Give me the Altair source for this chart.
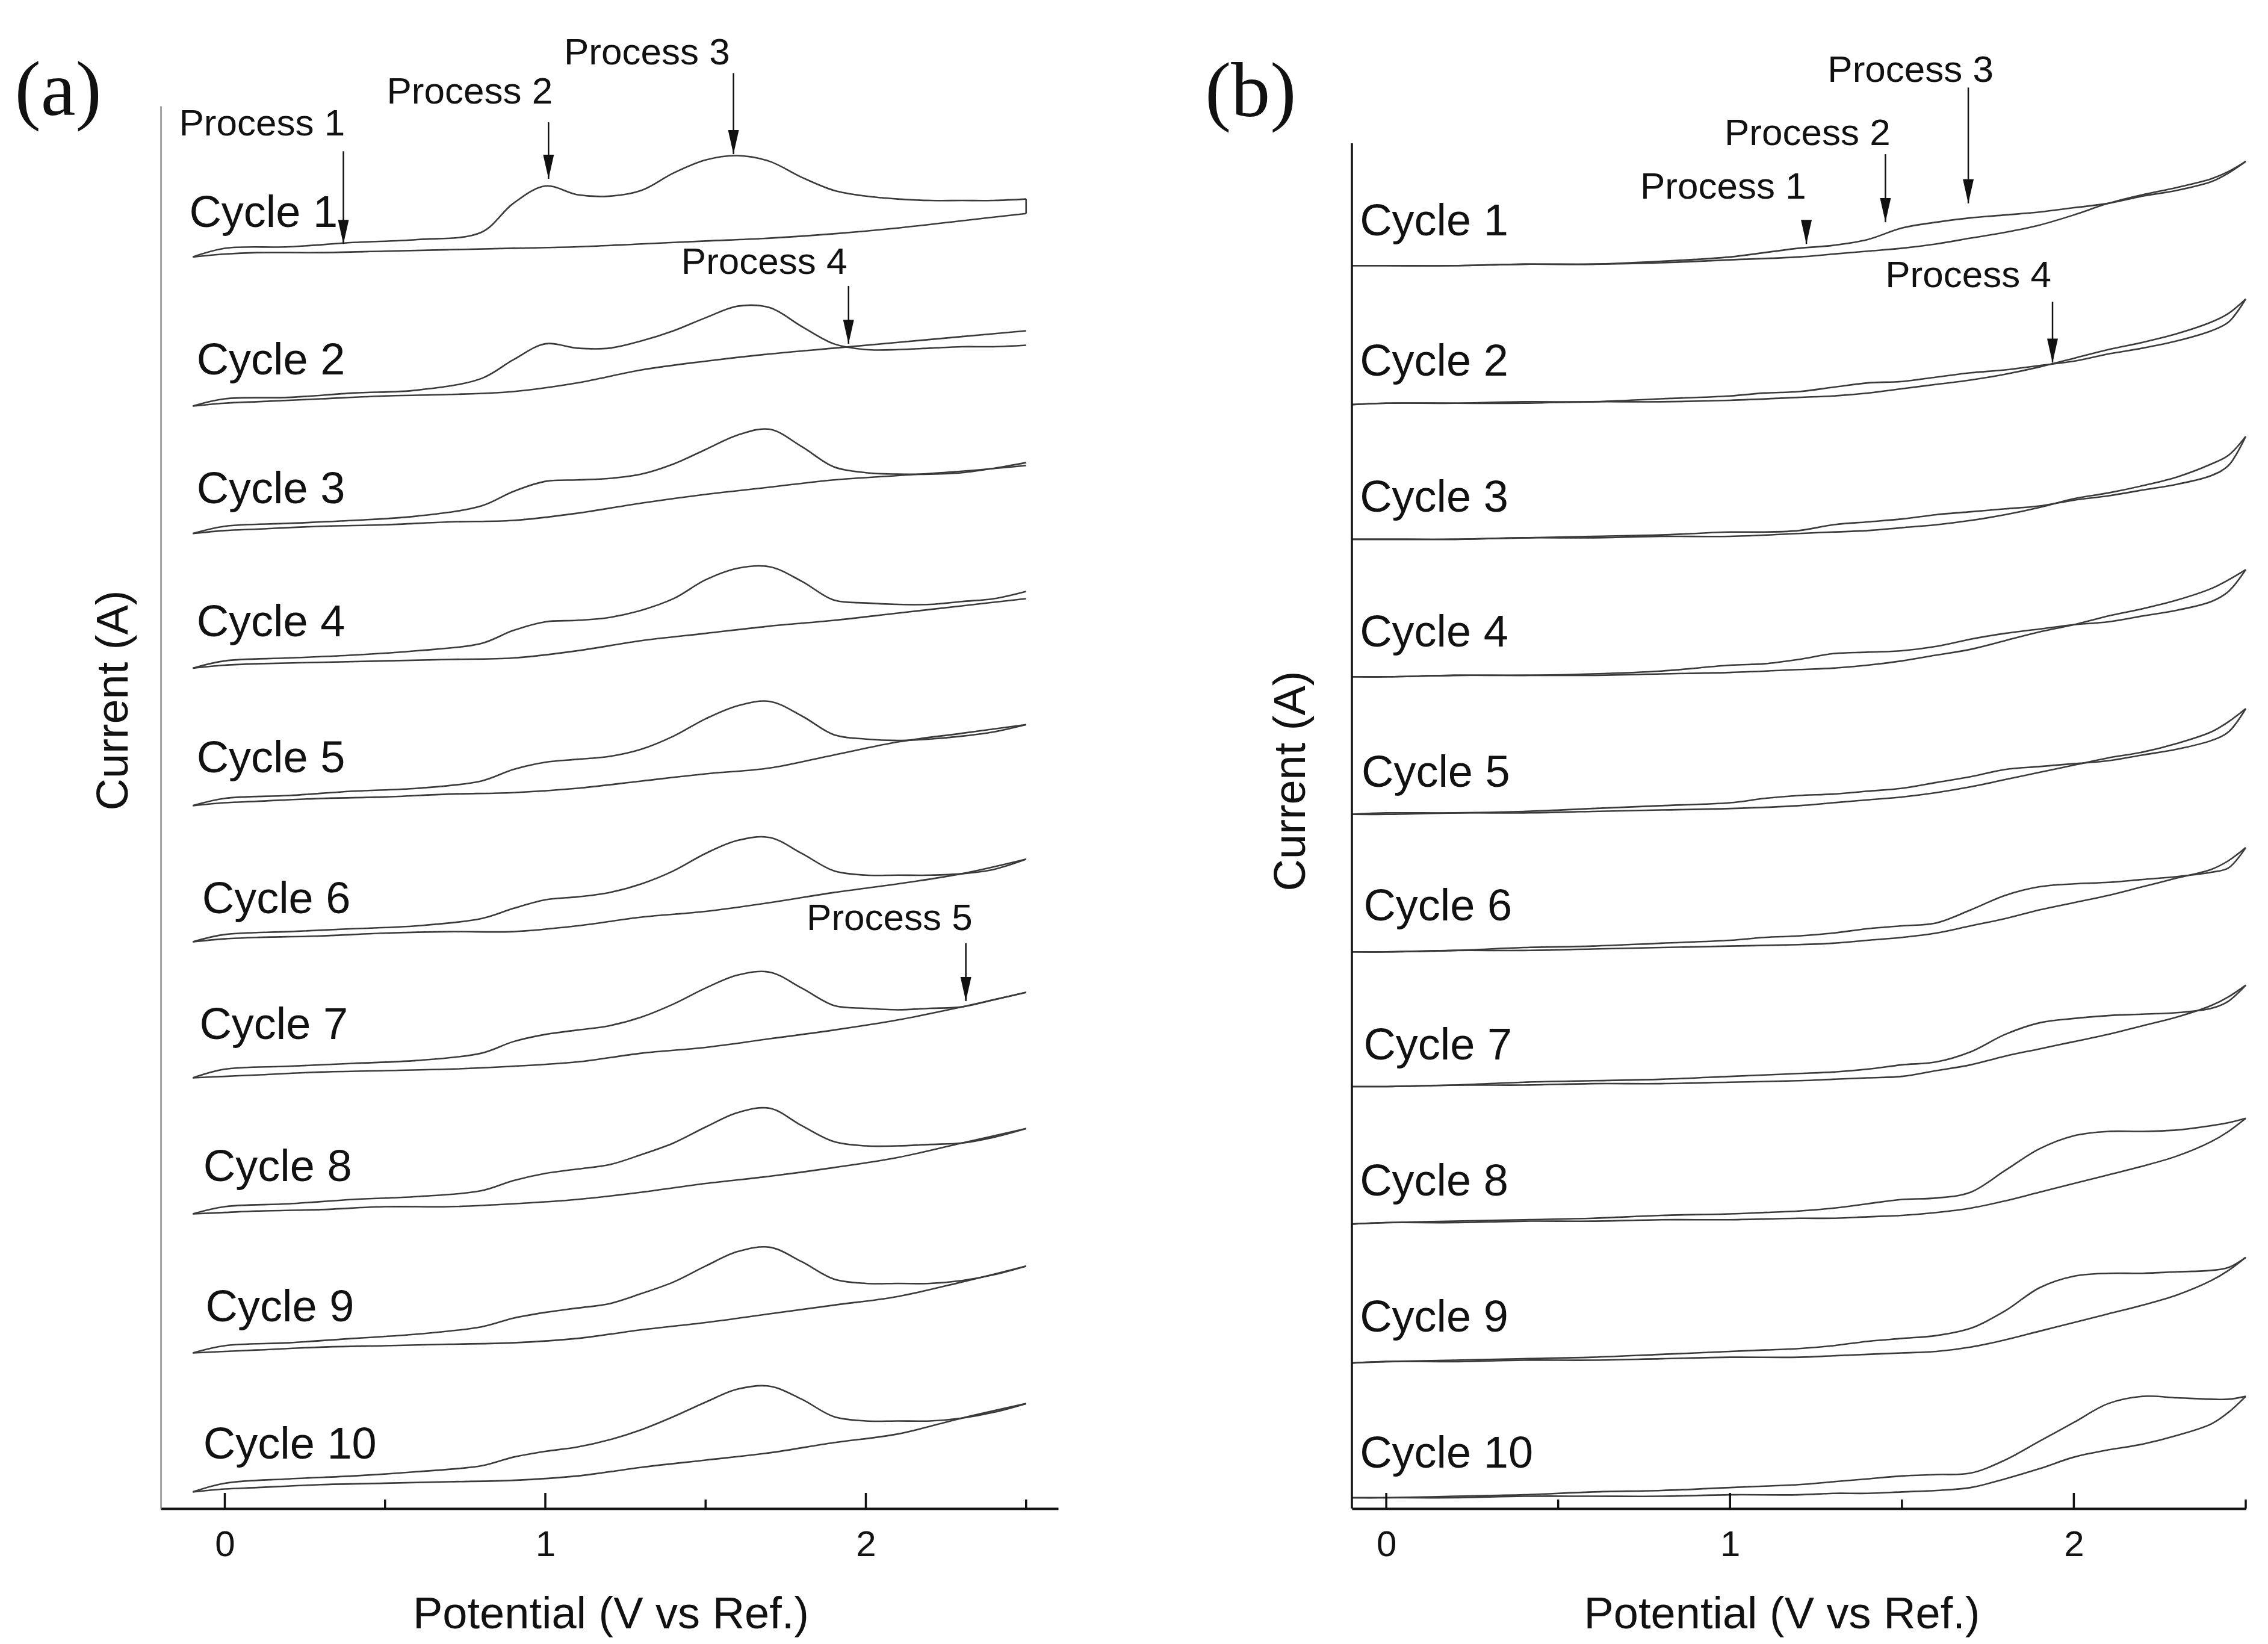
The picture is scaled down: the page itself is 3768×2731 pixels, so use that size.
import altair as alt
import pandas as pd

# ---------------- data (currents in arbitrary units, stacked cycles) ----------------
# Panel (a) potential grids (V vs Ref.)
A_UP_V = [-0.1, 0.0, 0.2, 0.4, 0.6, 0.8, 0.9, 1.0, 1.1, 1.2, 1.3, 1.4, 1.5, 1.6, 1.7, 1.8, 1.9, 2.0, 2.1, 2.2, 2.3, 2.4, 2.5]
A_DN_V = [2.5, 2.3, 2.1, 1.9, 1.7, 1.5, 1.3, 1.1, 0.9, 0.7, 0.5, 0.3, 0.1, 0.0, -0.1]

A1_UP = [867, 873, 874, 877, 879, 884, 904, 916, 910, 909, 913, 925, 934, 937, 933, 922, 913, 909, 907, 906, 906, 906, 907]
A1_DN = [897, 892, 887, 883, 880, 878, 876, 874, 873, 872, 871, 870, 870, 869, 867]
A2_UP = [764, 769, 770, 773, 775, 783, 796, 807, 804, 804, 809, 816, 825, 833, 832, 819, 807, 803, 803, 804, 805, 805, 806]
A2_DN = [816, 812, 808, 804, 800, 795, 789, 780, 774, 772, 771, 769, 767, 766, 764]
A3_UP = [676, 681, 683, 685, 688, 695, 705, 712, 713, 714, 717, 724, 734, 744, 748, 736, 722, 718, 717, 717, 718, 721, 725]
A3_DN = [723, 719, 716, 713, 708, 703, 697, 690, 685, 684, 682, 681, 679, 678, 676]
A4_UP = [583, 588, 590, 592, 595, 600, 609, 615, 616, 618, 623, 631, 644, 652, 653, 643, 630, 628, 627, 627, 629, 631, 636]
A4_DN = [631, 626, 621, 616, 612, 607, 602, 595, 590, 589, 588, 587, 586, 585, 583]
A5_UP = [488, 493, 495, 498, 500, 505, 513, 518, 520, 522, 527, 536, 548, 557, 560, 550, 537, 534, 533, 534, 536, 539, 544]
A5_DN = [544, 538, 532, 523, 514, 510, 505, 500, 497, 496, 494, 493, 491, 490, 488]
A6_UP = [394, 399, 401, 403, 405, 410, 417, 423, 425, 428, 434, 443, 455, 464, 466, 455, 443, 440, 440, 440, 441, 444, 451]
A6_DN = [451, 441, 434, 428, 421, 415, 411, 405, 401, 401, 400, 398, 397, 396, 394]
A7_UP = [300, 306, 308, 310, 312, 317, 325, 330, 333, 336, 342, 351, 362, 371, 373, 362, 350, 348, 347, 348, 349, 354, 359]
A7_DN = [359, 349, 340, 333, 327, 321, 317, 311, 308, 306, 305, 304, 302, 301, 300]
A8_UP = [206, 211, 213, 216, 218, 222, 229, 234, 237, 240, 247, 255, 266, 276, 279, 267, 256, 253, 253, 254, 255, 259, 265]
A8_DN = [265, 255, 245, 238, 232, 227, 221, 216, 213, 211, 211, 209, 208, 207, 206]
A9_UP = [110, 115, 117, 120, 123, 128, 134, 138, 141, 144, 151, 159, 170, 180, 183, 173, 161, 158, 158, 158, 160, 164, 170]
A9_DN = [170, 159, 149, 143, 137, 131, 126, 120, 117, 116, 115, 114, 112, 111, 110]
A10_UP = [14, 20, 23, 25, 28, 32, 38, 42, 45, 50, 57, 66, 76, 85, 87, 78, 66, 63, 63, 63, 65, 69, 75]
A10_DN = [75, 65, 54, 48, 41, 36, 31, 25, 22, 21, 20, 19, 17, 16, 14]

# Panel (b) potential grids
B_FW_V = [-0.1, 0.0, 0.2, 0.4, 0.6, 0.8, 1.0, 1.1, 1.2, 1.3, 1.4, 1.5, 1.6, 1.7, 1.8, 1.9, 2.0, 2.1, 2.2, 2.3, 2.4, 2.45, 2.5]
B_RV_V = [2.5, 2.45, 2.4, 2.3, 2.2, 2.1, 2.0, 1.9, 1.8, 1.7, 1.6, 1.5, 1.4, 1.3, 1.2, 1.0, 0.8, 0.6, 0.4, 0.2, 0.0, -0.1]

B1_FW = [861, 861, 861, 862, 862, 864, 867, 870, 873, 875, 879, 887, 891, 894, 896, 898, 901, 904, 909, 913, 919, 925, 933]
B1_RV = [933, 926, 921, 915, 910, 904, 896, 889, 884, 880, 876, 873, 871, 869, 867, 865, 863, 862, 862, 861, 861, 861]
B2_FW = [765, 766, 766, 767, 767, 769, 771, 773, 774, 777, 780, 781, 784, 787, 789, 792, 795, 800, 804, 809, 816, 822, 838]
B2_RV = [838, 828, 822, 814, 808, 803, 797, 791, 786, 782, 779, 776, 773, 771, 770, 768, 767, 767, 766, 766, 766, 765]
B3_FW = [672, 672, 672, 673, 674, 675, 677, 677, 678, 682, 684, 686, 689, 691, 693, 695, 699, 702, 706, 710, 716, 723, 743]
B3_RV = [743, 730, 724, 715, 709, 704, 700, 694, 689, 685, 682, 680, 678, 677, 676, 674, 674, 673, 673, 672, 672, 672]
B4_FW = [577, 577, 578, 578, 579, 581, 585, 586, 589, 593, 594, 595, 598, 603, 607, 610, 613, 615, 619, 623, 629, 636, 651]
B4_RV = [651, 644, 638, 630, 624, 619, 613, 608, 602, 596, 592, 588, 585, 583, 582, 580, 579, 578, 578, 578, 577, 577]
B5_FW = [482, 483, 483, 484, 486, 488, 490, 493, 495, 496, 498, 500, 504, 508, 513, 515, 517, 519, 523, 527, 533, 539, 555]
B5_RV = [555, 546, 539, 531, 525, 521, 516, 511, 506, 501, 497, 494, 492, 490, 488, 486, 485, 484, 483, 483, 482, 482]
B6_FW = [387, 387, 388, 390, 391, 393, 395, 397, 398, 400, 403, 405, 407, 416, 426, 432, 434, 435, 437, 439, 442, 445, 459]
B6_RV = [459, 450, 444, 438, 432, 426, 421, 416, 410, 405, 400, 397, 395, 393, 392, 391, 390, 389, 388, 388, 387, 387]
B7_FW = [294, 294, 295, 297, 298, 299, 301, 302, 303, 304, 306, 309, 311, 318, 330, 338, 341, 343, 344, 345, 348, 353, 364]
B7_RV = [364, 356, 350, 342, 336, 330, 325, 320, 315, 309, 305, 301, 300, 299, 298, 297, 296, 296, 295, 295, 294, 294]
B8_FW = [199, 200, 201, 202, 203, 205, 206, 207, 208, 210, 213, 216, 217, 221, 236, 251, 260, 263, 263, 264, 267, 269, 272]
B8_RV = [272, 263, 256, 246, 239, 233, 227, 221, 215, 210, 207, 205, 204, 203, 203, 202, 202, 201, 201, 200, 200, 199]
B9_FW = [103, 104, 105, 106, 107, 109, 111, 112, 113, 115, 118, 120, 122, 127, 139, 155, 163, 165, 165, 166, 167, 169, 176]
B9_RV = [176, 167, 160, 150, 143, 137, 131, 125, 119, 114, 111, 110, 109, 108, 107, 107, 106, 105, 105, 104, 104, 103]
B10_FW = [10, 10, 11, 12, 14, 15, 17, 18, 19, 21, 23, 25, 26, 27, 36, 49, 62, 75, 80, 79, 78, 78, 80]
B10_RV = [80, 69, 61, 53, 47, 43, 38, 30, 23, 17, 15, 14, 13, 13, 12, 12, 11, 11, 11, 10, 10, 10]

CYCLE_NAMES = ["Cycle %d" % i for i in range(1, 11)]
A_LABEL_X = [-0.111, -0.088, -0.088, -0.088, -0.088, -0.071, -0.079, -0.067, -0.060, -0.067]
A_LABEL_Y = [897, 795, 706, 614, 520, 423, 336, 238, 141, 46]
B_LABEL_X = [-0.077, -0.077, -0.077, -0.077, -0.072, -0.066, -0.066, -0.077, -0.077, -0.077]
B_LABEL_Y = [891, 794, 700, 607, 510, 418, 322, 228, 134, 40]

A_PROC = ["Process 1", "Process 2", "Process 3", "Process 4", "Process 5"]
A_PROC_TX = [0.116, 0.764, 1.317, 1.683, 2.074]
A_PROC_TY = [959, 981, 1008, 863, 410]
A_ARROW_X = [0.37, 1.01, 1.587, 1.946, 2.312]
A_ARROW_TOP = [940, 960, 994, 847, 393]
A_ARROW_TIP = [876, 921, 938, 807, 353]

B_PROC = ["Process 1", "Process 2", "Process 3", "Process 4"]
B_PROC_TX = [0.98, 1.225, 1.525, 1.693]
B_PROC_TY = [915, 952, 996, 854]
B_ARROW_X = [1.222, 1.452, 1.693, 1.938]
B_ARROW_TOP = [891, 938, 984, 836]
B_ARROW_TIP = [876, 891, 904, 794]

TICKS_MAJOR = [0, 1, 2]
TICKS_MINOR = [0.5, 1.5, 2.5]

# ---------------- build tables ----------------
def loop_frame(up_v, dn_v, ups, dns):
    rows = []
    for c, (u, d) in enumerate(zip(ups, dns), start=1):
        for v, y in zip(up_v, u):
            rows.append({"branch": "%d-fw" % c, "V": v, "I": y})
        for v, y in zip(dn_v, d):
            rows.append({"branch": "%d-rv" % c, "V": v, "I": y})
    return pd.DataFrame(rows)

A_UPS = [A1_UP, A2_UP, A3_UP, A4_UP, A5_UP, A6_UP, A7_UP, A8_UP, A9_UP, A10_UP]
A_DNS = [A1_DN, A2_DN, A3_DN, A4_DN, A5_DN, A6_DN, A7_DN, A8_DN, A9_DN, A10_DN]
B_FWS = [B1_FW, B2_FW, B3_FW, B4_FW, B5_FW, B6_FW, B7_FW, B8_FW, B9_FW, B10_FW]
B_RVS = [B1_RV, B2_RV, B3_RV, B4_RV, B5_RV, B6_RV, B7_RV, B8_RV, B9_RV, B10_RV]

df_a = loop_frame(A_UP_V, A_DN_V, A_UPS, A_DNS)
df_b = loop_frame(B_FW_V, B_RV_V, B_FWS, B_RVS)
# cycle 1 (panel a) switching link at the vertex potential
link_a = pd.DataFrame({"V": [A_UP_V[-1]], "I": [A1_UP[-1]], "I2": [A1_DN[0]]})

lab_a = pd.DataFrame({"x": A_LABEL_X, "y": A_LABEL_Y, "t": CYCLE_NAMES})
lab_b = pd.DataFrame({"x": B_LABEL_X, "y": B_LABEL_Y, "t": CYCLE_NAMES})
proc_a = pd.DataFrame({"t": A_PROC, "tx": A_PROC_TX, "ty": A_PROC_TY,
                       "ax": A_ARROW_X, "top": A_ARROW_TOP, "tip": A_ARROW_TIP})
proc_b = pd.DataFrame({"t": B_PROC, "tx": B_PROC_TX, "ty": B_PROC_TY,
                       "ax": B_ARROW_X, "top": B_ARROW_TOP, "tip": B_ARROW_TIP})

SANS = "Liberation Sans"
SERIF = "Liberation Serif"
INK = "#111111"
CURVE = "#3a3a3a"
HEAD = "M -0.45 -2 L 0.45 -2 L 0 0 Z"
H = 2330
YDOM = [2.5, 971.3]


def panel(df, lab, proc, xdom, width, title_x, ytitle_x, ytitle_y, letter, letter_x, letter_y,
          ydomain_line, ydomain_color, ydomain_width, link=None):
    xs = alt.Scale(domain=xdom, nice=False, zero=False)
    ys = alt.Scale(domain=YDOM, nice=False, zero=False)
    x_axis = alt.Axis(values=TICKS_MAJOR, format="d", title="Potential (V vs Ref.)",
                      titleFont=SANS, titleFontSize=74, titleFontWeight="normal", titleColor=INK,
                      titleX=title_x, titleY=140.6, titleAlign="center", titleBaseline="top",
                      labelFont=SANS, labelFontSize=60, labelColor=INK, labelPadding=31,
                      labelFlush=False, ticks=False, tickSize=0, grid=False,
                      domainColor=INK, domainWidth=4)
    y_axis = alt.Axis(title="Current (A)", labels=False, ticks=False, tickSize=0, grid=False,
                      domain=ydomain_line, domainColor=ydomain_color, domainWidth=ydomain_width,
                      titleFont=SANS, titleFontSize=74, titleFontWeight="normal", titleColor=INK,
                      titleX=ytitle_x, titleY=ytitle_y, titleAlign="center", titleBaseline="middle")

    def X(f):
        return alt.X(f, scale=xs, axis=x_axis)

    def Y(f):
        return alt.Y(f, scale=ys, axis=y_axis)

    lines = alt.Chart(df).mark_line(interpolate="catmull-rom", strokeWidth=2.6, color=CURVE).encode(
        x=X("V:Q"), y=Y("I:Q"), detail="branch:N", order="V:Q")
    major = alt.Chart(pd.DataFrame({"V": TICKS_MAJOR})).mark_rule(color=INK, strokeWidth=3.5).encode(
        x=X("V:Q"), y=alt.value(H), y2=alt.value(H - 26))
    minor = alt.Chart(pd.DataFrame({"V": TICKS_MINOR})).mark_rule(color=INK, strokeWidth=3.5).encode(
        x=X("V:Q"), y=alt.value(H), y2=alt.value(H - 15))
    shafts = alt.Chart(proc).mark_rule(color=INK, strokeWidth=2.5).encode(
        x=X("ax:Q"), y=Y("top:Q"), y2="tip:Q")
    heads = alt.Chart(proc).mark_point(shape=HEAD, filled=True, size=1600, color=INK,
                                       opacity=1, strokeWidth=0).encode(
        x=X("ax:Q"), y=Y("tip:Q"))
    ptext = alt.Chart(proc).mark_text(font=SANS, fontSize=62, align="center", baseline="middle",
                                      color=INK).encode(
        x=X("tx:Q"), y=Y("ty:Q"), text="t:N")
    ctext = alt.Chart(lab).mark_text(font=SANS, fontSize=74, align="left", baseline="middle",
                                     color=INK).encode(
        x=X("x:Q"), y=Y("y:Q"), text="t:N")
    ltext = alt.Chart(pd.DataFrame({"t": [letter]})).mark_text(
        font=SERIF, fontSize=130, align="left", baseline="middle", color=INK).encode(
        x=alt.value(letter_x), y=alt.value(letter_y), text="t:N")
    layers = [lines, major, minor, shafts, heads, ptext, ctext, ltext]
    if link is not None:
        layers.append(alt.Chart(link).mark_rule(color=CURVE, strokeWidth=2.6).encode(
            x=X("V:Q"), y=Y("I:Q"), y2="I2:Q"))
    if not ydomain_line:
        yline = alt.Chart(pd.DataFrame({"k": [0]})).mark_rule(color=INK, strokeWidth=3.5).encode(
            x=alt.value(0), y=alt.value(62), y2=alt.value(H))
        layers.append(yline)
    return alt.layer(*layers).properties(width=width, height=H)


pa = panel(df_a, lab_a, proc_a, [-0.2, 2.6], 1491, 747.5, -78, 987, "(a)", -242.5, -24.5,
           True, "#7a7a7a", 2.2, link=link_a)
pb = panel(df_b, lab_b, proc_b, [-0.1, 2.5], 1485, 714, -100.5, 1121, "(b)", -244, -22.5,
           False, INK, 3.5)

chart = alt.hconcat(pa, pb, spacing=488, bounds="flush").properties(
    padding={"left": 16, "top": 48, "right": 5, "bottom": 0},
    background="white",
).configure_view(strokeWidth=0)

chart.save("out.html", embed_options={"renderer": "svg", "actions": False})
